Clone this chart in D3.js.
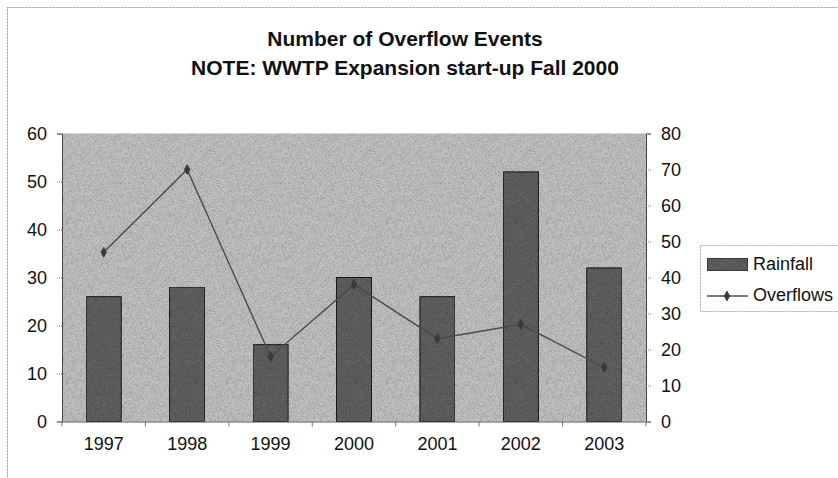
<!DOCTYPE html>
<html>
<head>
<meta charset="utf-8">
<script src="https://cdn.jsdelivr.net/npm/d3@7"></script>
<style>
  html, body { margin: 0; padding: 0; background: #ffffff; }
  svg { display: block; }
  text { font-family: "Liberation Sans", Arial, sans-serif; fill: #111; }
</style>
</head>
<body>
<svg id="chart" width="838" height="478"></svg>
<script>
const years = ["1997", "1998", "1999", "2000", "2001", "2002", "2003"];
const rainfall = [26, 28, 16, 30, 26, 52, 32];
const overflows = [47, 70, 18, 38, 23, 27, 15];
const leftTicks = [0, 10, 20, 30, 40, 50, 60];
const rightTicks = [0, 10, 20, 30, 40, 50, 60, 70, 80];
const titleLines = ["Number of Overflow Events", "NOTE: WWTP Expansion start-up Fall 2000"];
const legendLabels = ["Rainfall", "Overflows"];

const svg = d3.select("#chart");
const W = 838, H = 478;
const plot = { left: 62, right: 646, top: 133.5, bottom: 421.5 };

// outer dotted frame
svg.append("rect")
  .attr("x", 7.5).attr("y", 7.5)
  .attr("width", W).attr("height", H)
  .attr("fill", "none")
  .attr("stroke", "#9a9a9a")
  .attr("stroke-width", 1)
  .attr("stroke-dasharray", "2,1");

// noise filter for the halftone look
const defs = svg.append("defs");
const f = defs.append("filter").attr("id", "grain").attr("x", 0).attr("y", 0).attr("width", 1).attr("height", 1);
f.append("feTurbulence").attr("type", "fractalNoise").attr("baseFrequency", 1.6).attr("numOctaves", 1).attr("seed", 3).attr("result", "noise");
f.append("feColorMatrix").attr("in", "noise").attr("type", "matrix")
  .attr("values", "0 0 0 0 0  0 0 0 0 0  0 0 0 0 0  0 0 0 0.9 -0.3")
  .attr("result", "dots");
f.append("feComposite").attr("in", "dots").attr("in2", "SourceGraphic").attr("operator", "in").attr("result", "dotsIn");
f.append("feBlend").attr("in", "SourceGraphic").attr("in2", "dotsIn").attr("mode", "multiply");

// scales
const x = d3.scaleBand().domain(years).range([plot.left, plot.right]).paddingInner(0.58).paddingOuter(0.29);
const yL = d3.scaleLinear().domain([0, 60]).range([plot.bottom, plot.top]);
const yR = d3.scaleLinear().domain([0, 80]).range([plot.bottom, plot.top]);

// plot background
svg.append("rect")
  .attr("x", plot.left).attr("y", plot.top)
  .attr("width", plot.right - plot.left).attr("height", plot.bottom - plot.top)
  .attr("fill", "#c4c4c4")
  .attr("filter", "url(#grain)");

// bars
svg.append("g").selectAll("rect")
  .data(years.map((y, i) => ({ y, v: rainfall[i] })))
  .join("rect")
  .attr("x", d => x(d.y))
  .attr("y", d => yL(d.v))
  .attr("width", x.bandwidth())
  .attr("height", d => yL(0) - yL(d.v))
  .attr("fill", "#626262")
  .attr("stroke", "#1a1a1a")
  .attr("stroke-width", 1)
  .attr("filter", "url(#grain)");

// left axis
const gL = svg.append("g").attr("transform", `translate(${plot.left},0)`)
  .call(d3.axisLeft(yL).tickValues(leftTicks).tickSize(5).tickPadding(10).tickFormat(d3.format("d")));
gL.select(".domain").attr("stroke", "#444");
gL.selectAll(".tick line").attr("stroke", "#777").attr("stroke-dasharray", "1,1");
gL.selectAll("text").style("font-size", "18px").attr("fill", "#111");

// right axis
const gR = svg.append("g").attr("transform", `translate(${plot.right},0)`)
  .call(d3.axisRight(yR).tickValues(rightTicks).tickSize(5).tickPadding(10).tickFormat(d3.format("d")));
gR.select(".domain").attr("stroke", "#444");
gR.selectAll(".tick line").attr("stroke", "#777").attr("stroke-dasharray", "1,1");
gR.selectAll("text").style("font-size", "18px").attr("fill", "#111");

// bottom axis (labels centered on categories, ticks at category boundaries)
const gB = svg.append("g").attr("transform", `translate(0,${plot.bottom})`)
  .call(d3.axisBottom(x).tickSize(0).tickPadding(16));
gB.select(".domain").attr("stroke", "#555");
gB.selectAll("text").style("font-size", "18px").attr("fill", "#111");
const step = x.step();
const boundaries = years.map(y => x(y) + x.bandwidth() / 2 - step / 2).concat([x(years[years.length - 1]) + x.bandwidth() / 2 + step / 2]);
gB.selectAll(".bound").data(boundaries).join("line")
  .attr("class", "bound")
  .attr("x1", d => d).attr("x2", d => d)
  .attr("y1", 0).attr("y2", 5)
  .attr("stroke", "#777");

// overflow line
const line = d3.line()
  .x((d, i) => x(years[i]) + x.bandwidth() / 2)
  .y(d => yR(d));
svg.append("path")
  .datum(overflows)
  .attr("d", line)
  .attr("fill", "none")
  .attr("stroke", "#4a4a4a")
  .attr("stroke-width", 1.4);

const diamond = d3.symbol().type(d3.symbolDiamond).size(36);
svg.append("g").selectAll("path")
  .data(overflows)
  .join("path")
  .attr("d", diamond)
  .attr("transform", (d, i) => `translate(${x(years[i]) + x.bandwidth() / 2},${yR(d)})`)
  .attr("fill", "#3a3a3a");

// title
svg.append("g").selectAll("text")
  .data(titleLines)
  .join("text")
  .attr("x", 405)
  .attr("y", (d, i) => 46 + i * 29)
  .attr("text-anchor", "middle")
  .style("font-size", "21px")
  .style("font-weight", "bold")
  .text(d => d);

// legend
const lg = svg.append("g");
lg.append("rect")
  .attr("x", 700.5).attr("y", 245.5)
  .attr("width", 150).attr("height", 66)
  .attr("fill", "#fff")
  .attr("stroke", "#aaa")
  .attr("stroke-dasharray", "2,1");
lg.append("rect")
  .attr("x", 707).attr("y", 258)
  .attr("width", 41).attr("height", 13)
  .attr("fill", "#626262")
  .attr("stroke", "#1a1a1a")
  .attr("filter", "url(#grain)");
lg.append("line")
  .attr("x1", 707).attr("x2", 748)
  .attr("y1", 296).attr("y2", 296)
  .attr("stroke", "#4a4a4a").attr("stroke-width", 1.3);
lg.append("path")
  .attr("d", diamond)
  .attr("transform", "translate(727,296)")
  .attr("fill", "#3a3a3a");
lg.selectAll("text.lab")
  .data(legendLabels)
  .join("text")
  .attr("class", "lab")
  .attr("x", 753)
  .attr("y", (d, i) => 265 + i * 31)
  .attr("dominant-baseline", "middle")
  .style("font-size", "18px")
  .text(d => d);
</script>
</body>
</html>
